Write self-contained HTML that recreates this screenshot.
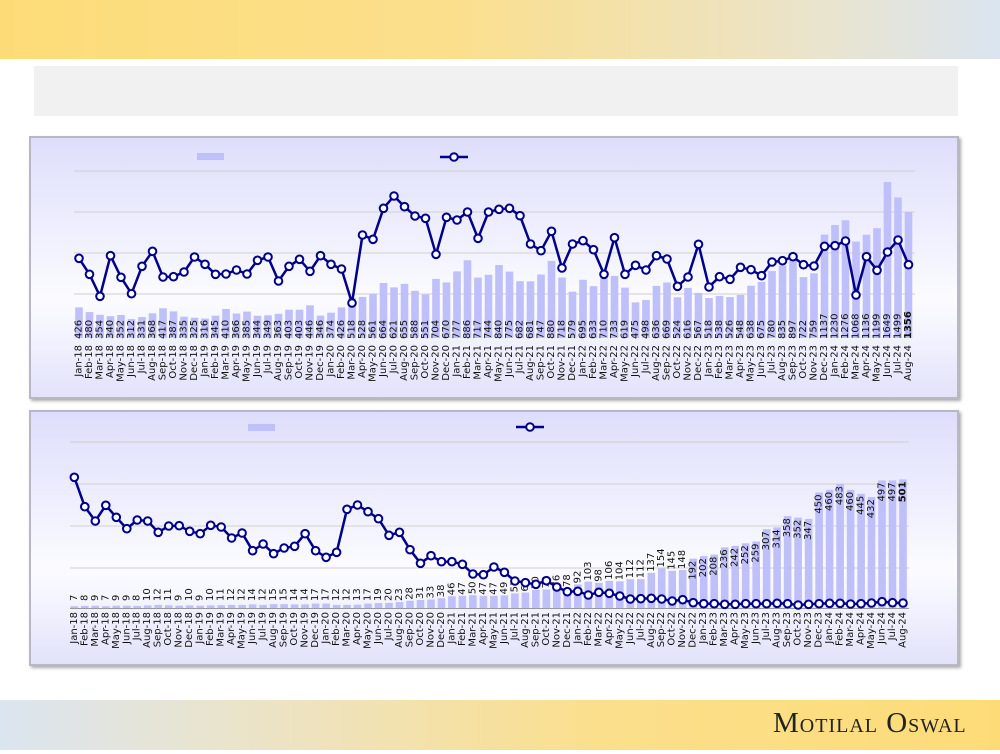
<!DOCTYPE html>
<html><head><meta charset="utf-8"><style>
html,body{margin:0;padding:0;width:1000px;height:750px;overflow:hidden;background:#fff;font-family:"DejaVu Sans","Liberation Sans",sans-serif}
.hdr{position:absolute;left:0;top:0;width:1000px;height:59px;background:linear-gradient(90deg,#fddc78 0%,#fbdf8c 45%,#eee3c0 75%,#dbe5f0 100%)}
.ftr{position:absolute;left:0;top:700px;width:1000px;height:50px;background:linear-gradient(90deg,#dbe5f0 0%,#eee3c0 30%,#fbdf8c 60%,#fddc78 100%)}
.gray{position:absolute;left:34px;top:66px;width:924px;height:50px;background:#f1f1f1}
.panel{position:absolute;left:29px;width:926px;border:2px solid #b8b8c4;box-shadow:2px 2px 3px #aaa;background:linear-gradient(180deg,#dedefc 0%,#fbfbff 62%,#f6f6ff 72%,#e2e2fa 100%)}
.logo{position:absolute;left:773px;top:707px;font-family:"Liberation Serif",serif;font-size:29px;color:#222;font-variant:small-caps;letter-spacing:1px}
#w{position:absolute;left:0;top:0;width:1000px;height:750px}
</style></head><body>
<div class="hdr"></div><div class="gray"></div><div class="ftr"></div>
<div class="panel" style="top:136px;height:259px"></div>
<div class="panel" style="top:410px;height:252px"></div>
<div class="logo">Motilal Oswal</div>
<div id="w"></div>
<script>
(function(){
var M=["Jan-18","Feb-18","Mar-18","Apr-18","May-18","Jun-18","Jul-18","Aug-18","Sep-18","Oct-18","Nov-18","Dec-18","Jan-19","Feb-19","Mar-19","Apr-19","May-19","Jun-19","Jul-19","Aug-19","Sep-19","Oct-19","Nov-19","Dec-19","Jan-20","Feb-20","Mar-20","Apr-20","May-20","Jun-20","Jul-20","Aug-20","Sep-20","Oct-20","Nov-20","Dec-20","Jan-21","Feb-21","Mar-21","Apr-21","May-21","Jun-21","Jul-21","Aug-21","Sep-21","Oct-21","Nov-21","Dec-21","Jan-22","Feb-22","Mar-22","Apr-22","May-22","Jun-22","Jul-22","Aug-22","Sep-22","Oct-22","Nov-22","Dec-22","Jan-23","Feb-23","Mar-23","Apr-23","May-23","Jun-23","Jul-23","Aug-23","Sep-23","Oct-23","Nov-23","Dec-23","Jan-24","Feb-24","Mar-24","Apr-24","May-24","Jun-24","Jul-24","Aug-24"];
var A=[426,380,354,340,352,312,331,368,417,387,335,325,316,345,410,366,385,344,349,363,403,403,446,346,374,426,518,528,561,664,621,655,588,551,704,670,777,886,717,744,840,775,682,681,747,880,718,579,695,633,710,733,619,475,498,636,669,524,616,567,518,538,526,548,638,675,780,835,897,722,759,1137,1230,1276,1068,1136,1199,1649,1499,1356];
var AL=[258.3,274.3,296.3,255.7,277.3,293.7,266.3,251.3,277,276.7,272,257,264.3,274.3,274,270,274,260.3,257,281,266.3,259.3,271.3,255.7,264.3,269,303,235,239.3,208.3,196,206.7,216,218.3,254.3,217.3,220,212,238.3,212,209.3,208.3,215.7,244,250.7,231.3,268,244,240.7,249.7,274.3,237.7,274.3,265.3,270,255.7,259,286.3,277,244.3,287,276.7,279.3,267.3,269.7,275.7,262,260.7,256.7,264.7,266,246.3,245.7,241,295,256.7,270.3,252,240,264.7];
var B=[7,8,9,7,9,9,8,10,12,11,9,10,9,10,11,12,12,14,12,15,15,14,14,17,17,12,12,13,17,19,20,23,28,31,33,38,46,47,50,47,47,49,57,60,70,72,76,78,92,103,98,106,104,112,112,137,154,145,148,192,202,208,236,242,252,259,307,314,358,352,347,450,460,483,460,445,432,497,497,501];
var BL=[477.3,506.7,521,505.3,517.3,528.7,520,521,532.3,526,525.7,531.3,533.7,525.3,527,538,533,550.7,544,553.7,548,546.3,533.7,550.7,557.3,552.3,509.3,505,511.7,518.7,535.3,532.3,549.7,563.3,555.7,561.7,561.7,564.3,574,574.7,567,572.3,581,582.7,584.3,580.7,587,591.7,591.3,595,592.3,593.3,596,599,598.7,598.3,599,601,599.7,602.7,603.7,603.7,604.3,604.3,603.7,603.7,603.7,603.3,603.7,605,604.3,603.7,603.3,603.3,604,603.7,603,601.7,602.7,603];
var h='';
function t(x,y,s,anchor,bold){return '<text transform="translate('+x.toFixed(1)+','+y.toFixed(1)+') rotate(-90)" text-anchor="'+anchor+'" dominant-baseline="central" font-size="10" fill="#111"'+(bold?' font-weight="bold"':'')+'>'+s+'</text>';}
var i,x,tp,p;
[171,212,253,294].forEach(function(y){h+='<line x1="74" x2="915" y1="'+y+'" y2="'+y+'" stroke="#d0d0d0" stroke-width="1"/>';});
h+='<rect x="197" y="153" width="27" height="7" fill="#bfbff9"/>';
h+='<line x1="440" x2="468" y1="157" y2="157" stroke="#00008b" stroke-width="2.5"/><circle cx="454" cy="157" r="3.8" fill="#fff" stroke="#00008b" stroke-width="2"/>';
p='';
for(i=0;i<80;i++){x=79+10.5*i;tp=351-A[i]*0.1024;
 h+='<rect x="'+(x-3.8).toFixed(1)+'" y="'+tp.toFixed(1)+'" width="7.6" height="'+(338-tp).toFixed(1)+'" fill="#bfbff9"/>';
 p+=(i?'L':'M')+x.toFixed(1)+','+AL[i];}
h+='<path d="'+p+'" fill="none" stroke="#00008b" stroke-width="2.5" stroke-linejoin="round"/>';
for(i=0;i<80;i++){x=79+10.5*i;h+='<circle cx="'+x.toFixed(1)+'" cy="'+AL[i]+'" r="3.8" fill="#fff" stroke="#00008b" stroke-width="2"/>';}
for(i=0;i<80;i++){x=79+10.5*i;h+=t(x,339,A[i],'start',i==79);h+=t(x,345,M[i],'end');}
[442,484,526,568].forEach(function(y){h+='<line x1="70" x2="909" y1="'+y+'" y2="'+y+'" stroke="#d0d0d0" stroke-width="1"/>';});
h+='<line x1="70" x2="909" y1="608.5" y2="608.5" stroke="#999" stroke-width="1"/>';
h+='<rect x="248" y="424" width="27" height="7" fill="#bfbff9"/>';
h+='<line x1="516" x2="544" y1="427" y2="427" stroke="#00008b" stroke-width="2.5"/><circle cx="530" cy="427" r="3.8" fill="#fff" stroke="#00008b" stroke-width="2"/>';
p='';
for(i=0;i<80;i++){x=74.3+10.49*i;tp=608-B[i]*0.2567;
 h+='<rect x="'+(x-3.8).toFixed(1)+'" y="'+tp.toFixed(1)+'" width="7.6" height="'+(608-tp).toFixed(1)+'" fill="#bfbff9"/>';
 p+=(i?'L':'M')+x.toFixed(1)+','+BL[i];}
for(i=0;i<80;i++){x=74.3+10.49*i;tp=608-B[i]*0.2567;
 if(B[i]>=190)h+=t(x,tp+2,B[i],'end',i==79);else h+=t(x,Math.min(tp-1,601),B[i],'start');
 h+=t(x,612,M[i],'end');}
h+='<path d="'+p+'" fill="none" stroke="#00008b" stroke-width="2.5" stroke-linejoin="round"/>';
for(i=0;i<80;i++){x=74.3+10.49*i;h+='<circle cx="'+x.toFixed(1)+'" cy="'+BL[i]+'" r="3.8" fill="#fff" stroke="#00008b" stroke-width="2"/>';}
document.getElementById('w').innerHTML='<svg width="1000" height="750" xmlns="http://www.w3.org/2000/svg">'+h+'</svg>';
})();
</script>
</body></html>
